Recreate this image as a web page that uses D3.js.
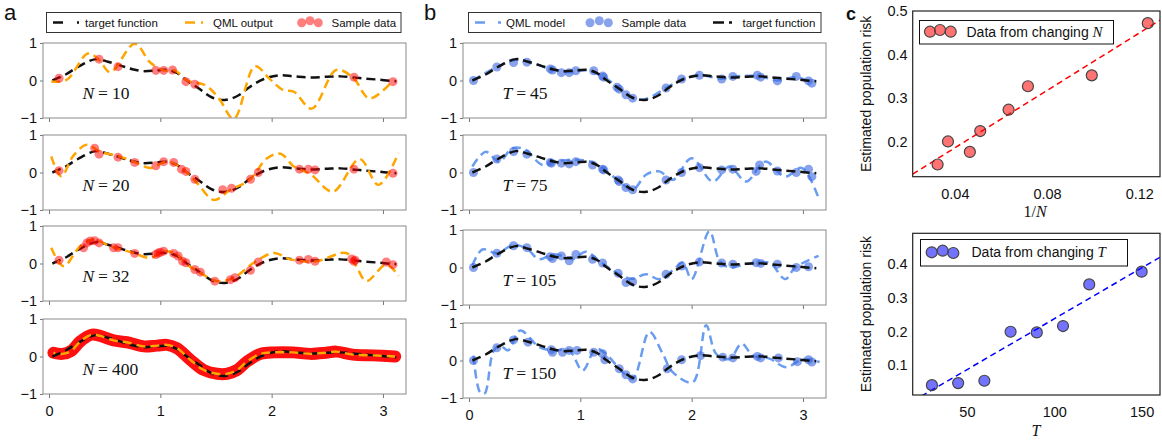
<!DOCTYPE html>
<html>
<head>
<meta charset="utf-8">
<script src="https://cdn.jsdelivr.net/npm/d3@7/dist/d3.min.js"></script>
<style>
  body { margin: 0; background: #fff; }
  text { font-family: "Liberation Sans", Arial, sans-serif; fill: #111; }
  .math { font-family: "Liberation Serif", "DejaVu Serif", serif; }
</style>
</head>
<body>
<svg id="chart" width="1162" height="440"></svg>
<script>
// ---- data ----
const xTicks = [0, 1, 2, 3];
const yTicks = [-1, 0, 1];

// target function (black dashed)
const targetX = [0.03, 0.15, 0.26, 0.42, 0.53, 0.65, 0.75, 0.85, 0.97, 1.07, 1.15, 1.23, 1.35, 1.47, 1.58, 1.70, 1.80, 1.93, 2.07, 2.20, 2.35, 2.50, 2.62, 2.77, 2.93, 3.12];
const targetY = [0.0, 0.16, 0.36, 0.57, 0.50, 0.39, 0.30, 0.25, 0.27, 0.28, 0.20, 0.02, -0.22, -0.46, -0.52, -0.40, -0.18, 0.04, 0.14, 0.11, 0.08, 0.10, 0.11, 0.07, 0.03, -0.02];

// panel a: samples and QML output
const sN10X = [0.09, 0.45, 0.62, 0.96, 1.03, 1.11, 1.23, 1.31, 2.74, 3.09];
const sN10Y = [0.06, 0.57, 0.37, 0.27, 0.27, 0.28, -0.03, -0.10, 0.09, -0.03];
const qN10X = [0.02, 0.16, 0.35, 0.45, 0.55, 0.77, 0.91, 1.03, 1.13, 1.24, 1.40, 1.52, 1.66, 1.85, 1.98, 2.10, 2.20, 2.36, 2.58, 2.73, 2.88, 3.09];
const qN10Y = [-0.03, 0.02, 0.72, 0.55, 0.22, 0.98, 0.48, 0.27, 0.27, 0.0, -0.12, -0.45, -1.02, 0.38, 0.05, -0.25, -0.3, -0.75, 0.28, 0.08, -0.48, 0.0];

const sN20X = [0.09, 0.41, 0.45, 0.62, 0.77, 0.96, 1.03, 1.12, 1.19, 1.23, 1.31, 1.56, 1.64, 1.81, 1.88, 2.25, 2.33, 2.39, 2.74, 3.09];
const sN20Y = [0.05, 0.65, 0.49, 0.41, 0.27, 0.18, 0.29, 0.27, 0.09, 0.03, -0.18, -0.46, -0.42, -0.18, 0.0, 0.09, 0.09, 0.07, 0.09, -0.02];
const qN20X = [0.02, 0.11, 0.22, 0.34, 0.46, 0.62, 0.76, 0.91, 1.06, 1.19, 1.33, 1.48, 1.63, 1.80, 1.96, 2.08, 2.20, 2.35, 2.55, 2.79, 2.96, 3.14];
const qN20Y = [0.43, -0.1, 0.45, 0.74, 0.55, 0.44, 0.29, 0.12, 0.29, 0.12, -0.28, -0.73, -0.46, -0.2, 0.38, 0.5, 0.16, -0.05, -0.51, 0.36, -0.33, 0.52];

const sN32X = [0.09, 0.31, 0.34, 0.37, 0.41, 0.45, 0.58, 0.62, 0.77, 0.96, 0.98, 1.00, 1.03, 1.12, 1.16, 1.20, 1.23, 1.31, 1.36, 1.49, 1.63, 1.67, 1.81, 1.88, 2.25, 2.33, 2.39, 2.72, 2.74, 2.75, 3.03, 3.09];
const sN32Y = [0.09, 0.42, 0.55, 0.60, 0.61, 0.55, 0.42, 0.42, 0.27, 0.24, 0.28, 0.30, 0.33, 0.27, 0.20, 0.06, 0.02, -0.16, -0.23, -0.47, -0.43, -0.38, -0.18, 0.04, 0.09, 0.11, 0.06, 0.12, 0.06, 0.09, 0.04, -0.03];
const qN32X = [0.02, 0.13, 0.28, 0.40, 0.55, 0.76, 0.91, 1.03, 1.15, 1.24, 1.36, 1.51, 1.66, 1.84, 2.02, 2.17, 2.40, 2.67, 2.76, 2.85, 3.03, 3.14];
const qN32Y = [0.42, -0.07, 0.46, 0.64, 0.46, 0.28, 0.15, 0.33, 0.24, -0.03, -0.25, -0.47, -0.38, 0.02, 0.28, 0.11, 0.06, 0.28, -0.07, -0.47, -0.03, -0.33];

// N = 400: the dense samples form a band, QML output sits on it
const b400X = [0.04, 0.12, 0.20, 0.28, 0.38, 0.46, 0.58, 0.70, 0.85, 0.97, 1.06, 1.15, 1.27, 1.39, 1.51, 1.60, 1.69, 1.78, 1.90, 2.02, 2.19, 2.35, 2.49, 2.58, 2.73, 2.91, 3.11];
const b400Y = [0.10, 0.07, 0.15, 0.40, 0.58, 0.55, 0.43, 0.38, 0.27, 0.29, 0.31, 0.22, -0.09, -0.36, -0.46, -0.46, -0.36, -0.13, 0.07, 0.11, 0.11, 0.07, 0.10, 0.13, 0.05, 0.03, 0.00];

// panel b: samples and QML model
const sT45X = [0.04, 0.25, 0.40, 0.52, 0.73, 0.75, 0.83, 0.90, 0.96, 1.12, 1.20, 1.21, 1.33, 1.35, 1.41, 1.47, 1.77, 1.91, 2.07, 2.27, 2.37, 2.59, 2.62, 2.77, 2.94, 3.05, 3.08];
const sT45Y = [0.00, 0.36, 0.48, 0.49, 0.31, 0.28, 0.21, 0.21, 0.26, 0.26, 0.12, 0.09, -0.18, -0.23, -0.38, -0.47, -0.20, 0.04, 0.14, 0.04, 0.11, 0.14, 0.09, -0.01, 0.11, -0.01, -0.07];
const qT45X = [0.03, 0.25, 0.42, 0.55, 0.75, 0.90, 1.05, 1.20, 1.35, 1.47, 1.58, 1.77, 1.92, 2.07, 2.27, 2.37, 2.60, 2.77, 2.94, 3.08];
const qT45Y = [0.0, 0.36, 0.55, 0.48, 0.29, 0.22, 0.27, 0.11, -0.2, -0.46, -0.5, -0.2, 0.04, 0.14, 0.05, 0.1, 0.12, 0.0, 0.09, -0.06];

const sT75X = [0.04, 0.25, 0.40, 0.52, 0.73, 0.74, 0.83, 0.90, 0.96, 1.11, 1.20, 1.21, 1.34, 1.35, 1.41, 1.47, 1.77, 1.91, 2.07, 2.27, 2.37, 2.58, 2.61, 2.77, 2.94, 3.05, 3.08];
const sT75Y = [0.00, 0.36, 0.56, 0.49, 0.27, 0.25, 0.25, 0.23, 0.29, 0.20, 0.09, 0.07, -0.20, -0.24, -0.40, -0.46, -0.20, 0.00, 0.13, 0.07, 0.09, 0.03, 0.20, 0.04, 0.00, 0.09, -0.11];
const qT75X = [0.03, 0.15, 0.27, 0.39, 0.50, 0.66, 0.78, 0.96, 1.11, 1.23, 1.35, 1.47, 1.59, 1.71, 1.83, 2.00, 2.19, 2.34, 2.49, 2.66, 2.84, 2.99, 3.14];
const qT75Y = [0.16, 0.55, 0.29, 0.65, 0.62, 0.20, 0.29, 0.34, 0.27, 0.05, -0.24, -0.46, -0.06, 0.03, -0.20, 0.38, -0.24, 0.16, -0.24, 0.29, -0.11, 0.12, -0.68];

const sT105X = [0.04, 0.25, 0.40, 0.52, 0.73, 0.75, 0.83, 0.90, 0.96, 1.11, 1.20, 1.34, 1.41, 1.47, 1.77, 1.91, 2.07, 2.27, 2.37, 2.58, 2.62, 2.77, 2.94, 3.05];
const sT105Y = [0.00, 0.38, 0.58, 0.53, 0.29, 0.24, 0.31, 0.18, 0.35, 0.22, 0.12, -0.15, -0.40, -0.38, -0.18, 0.04, 0.15, 0.12, 0.09, 0.13, 0.11, 0.09, 0.00, 0.02];
const qT105X = [0.03, 0.12, 0.25, 0.40, 0.52, 0.63, 0.75, 0.85, 0.93, 1.05, 1.18, 1.35, 1.47, 1.59, 1.71, 1.84, 1.92, 2.00, 2.16, 2.25, 2.34, 2.50, 2.70, 2.84, 2.93, 3.14];
const qT105Y = [0.05, 0.48, 0.38, 0.60, 0.50, 0.22, 0.35, 0.30, 0.22, 0.42, 0.15, -0.18, -0.30, -0.18, -0.31, -0.05, 0.13, -0.31, 0.97, 0.18, 0.0, 0.10, 0.12, -0.31, 0.0, 0.31];

const sT150X = [0.04, 0.25, 0.40, 0.53, 0.74, 0.75, 0.84, 0.90, 0.97, 1.12, 1.20, 1.22, 1.35, 1.41, 1.47, 1.78, 1.91, 2.08, 2.28, 2.37, 2.59, 2.62, 2.78, 2.95, 3.05, 3.08];
const sT150Y = [0.00, 0.34, 0.55, 0.49, 0.29, 0.22, 0.22, 0.27, 0.27, 0.22, 0.18, 0.02, -0.22, -0.38, -0.49, -0.22, 0.02, 0.13, 0.09, 0.07, 0.11, 0.07, 0.07, -0.03, 0.02, -0.04];
const qT150X = [0.04, 0.10, 0.14, 0.22, 0.28, 0.35, 0.46, 0.63, 0.75, 0.90, 1.02, 1.14, 1.24, 1.35, 1.47, 1.62, 1.74, 1.83, 2.01, 2.13, 2.22, 2.34, 2.45, 2.55, 2.70, 2.85, 3.00, 3.15];
const qT150Y = [0.13, -0.85, -0.88, 0.25, 0.40, 0.27, 0.80, 0.36, 0.27, 0.27, -0.27, 0.31, 0.15, -0.22, -0.49, 0.76, 0.18, -0.31, -0.58, 0.94, 0.18, 0.04, 0.45, 0.13, 0.05, -0.18, 0.04, -0.04];

// panel c
const invN = [0.0325, 0.0370, 0.0465, 0.0510, 0.0633, 0.0717, 0.0994, 0.1237];
const riskN = [0.147, 0.200, 0.176, 0.224, 0.273, 0.327, 0.352, 0.472];
const fitNX = [0.0217, 0.129];
const fitNY = [0.125, 0.479];
const Tvals = [30, 45, 60, 75, 90, 105, 120, 150];
const riskT = [0.040, 0.046, 0.053, 0.199, 0.197, 0.216, 0.340, 0.378];
const fitTX = [19, 160.5];
const fitTY = [-0.008, 0.421];
const cTopYTicks = [0.2, 0.3, 0.4, 0.5];
const cTopXTicks = [0.04, 0.08, 0.12];
const cBotYTicks = [0.1, 0.2, 0.3, 0.4];
const cBotXTicks = [50, 100, 150];

// ---- drawing ----
const svg = d3.select('#chart');
const H = 75;
let clipCount = 0;

function styleAxis(a, size) {
  a.attr('font-family', null).attr('font-size', null);
  a.select('.domain').remove();
  a.selectAll('.tick line').attr('stroke', '#777');
  a.selectAll('.tick text').attr('fill', '#111').style('font-size', size + 'px');
}

function subplot(x, top, showX) {
  const y = d3.scaleLinear().domain([-1, 1]).range([top + H, top]);
  const [x0, x1] = x.range();
  const id = 'clip' + clipCount++;
  svg.append('clipPath').attr('id', id).append('rect')
     .attr('x', x0).attr('y', top).attr('width', x1 - x0).attr('height', H);
  const xa = svg.append('g').attr('transform', `translate(0,${top + H})`)
     .call(d3.axisBottom(x).tickValues(xTicks).tickSize(4).tickPadding(8)
       .tickFormat(showX ? d3.format('d') : ''));
  const ya = svg.append('g').attr('transform', `translate(${x0},0)`)
     .call(d3.axisLeft(y).tickValues(yTicks).tickSize(3).tickPadding(3).tickFormat(d3.format('d')));
  styleAxis(xa, 14.5);
  styleAxis(ya, 14.5);
  const plot = svg.append('g').attr('clip-path', `url(#${id})`);
  svg.append('rect').attr('x', x0).attr('y', top).attr('width', x1 - x0).attr('height', H)
     .attr('fill', 'none').attr('stroke', '#8a8a8a').attr('stroke-width', 1);
  return { y, plot };
}

function curve(x, y, xs, ys) {
  return d3.line().curve(d3.curveCatmullRom.alpha(0.5))
    .x(i => x(xs[i])).y(i => y(ys[i]))(d3.range(xs.length));
}

function dashed(g, d, color, w, dash, offset) {
  g.append('path').attr('d', d).attr('fill', 'none').attr('stroke', color)
   .attr('stroke-width', w).attr('stroke-dasharray', dash).attr('stroke-dashoffset', offset || 0);
}

function dots(g, x, y, xs, ys, color, op) {
  g.selectAll(null).data(d3.range(xs.length)).enter().append('circle')
   .attr('cx', i => x(xs[i])).attr('cy', i => y(ys[i])).attr('r', 4.5)
   .attr('fill', color).attr('fill-opacity', op);
}

function mathLabel(x, y, sym, val) {
  const t = svg.append('text').attr('class', 'math').attr('x', x).attr('y', y).style('font-size', '17.5px');
  t.append('tspan').style('font-style', 'italic').text(sym);
  t.append('tspan').attr('dx', 4).text('=');
  t.append('tspan').attr('dx', 4).text(val);
}

// panel a
const xA = d3.scaleLinear().domain([-0.054, 3.207]).range([43, 406]);
const topsA = [43, 135, 226, 319];
const setsA = [
  { n: '10', sx: sN10X, sy: sN10Y, qx: qN10X, qy: qN10Y },
  { n: '20', sx: sN20X, sy: sN20Y, qx: qN20X, qy: qN20Y },
  { n: '32', sx: sN32X, sy: sN32Y, qx: qN32X, qy: qN32Y },
  { n: '400', qx: b400X, qy: b400Y }
];
setsA.forEach((s, k) => {
  const { y, plot } = subplot(xA, topsA[k], k === 3);
  if (!s.sx) {
    plot.append('path').attr('d', curve(xA, y, b400X, b400Y)).attr('fill', 'none')
      .attr('stroke', '#ff1010').attr('stroke-width', 12).attr('stroke-linecap', 'round')
      .attr('stroke-linejoin', 'round');
  }
  dashed(plot, curve(xA, y, targetX, targetY), '#111', 2.5, '9,5');
  dashed(plot, curve(xA, y, s.qx, s.qy), 'orange', 2.5, '9,5', s.sx ? 0 : 7);
  if (s.sx) dots(plot, xA, y, s.sx, s.sy, 'red', 0.5);
  mathLabel(xA(0.3), y(-0.5), 'N', s.n);
});

// panel b
const xB = d3.scaleLinear().domain([-0.054, 3.207]).range([463, 826]);
const topsB = [43, 135, 230, 323];
const setsB = [
  { n: '45', sx: sT45X, sy: sT45Y, qx: qT45X, qy: qT45Y },
  { n: '75', sx: sT75X, sy: sT75Y, qx: qT75X, qy: qT75Y },
  { n: '105', sx: sT105X, sy: sT105Y, qx: qT105X, qy: qT105Y },
  { n: '150', sx: sT150X, sy: sT150Y, qx: qT150X, qy: qT150Y }
];
setsB.forEach((s, k) => {
  const { y, plot } = subplot(xB, topsB[k], k === 3);
  dashed(plot, curve(xB, y, s.qx, s.qy), '#6a9cf0', 2.5, '9,5');
  dots(plot, xB, y, s.sx, s.sy, '#3f6ae0', 0.62);
  dashed(plot, curve(xB, y, targetX, targetY), '#111', 2.5, '9,5');
  mathLabel(xB(0.3), y(-0.5), 'T', s.n);
});

// legends a & b
function legendBox(x, y, w, h, stroke) {
  svg.append('rect').attr('x', x).attr('y', y).attr('width', w).attr('height', h)
     .attr('fill', '#fff').attr('stroke', stroke).attr('stroke-width', 1);
}
function legLine(x0, x1, yy, color, dash) {
  svg.append('line').attr('x1', x0).attr('x2', x1).attr('y1', yy).attr('y2', yy)
     .attr('stroke', color).attr('stroke-width', 2.5).attr('stroke-dasharray', dash);
}
function legDots(xs, ys, fill, op, r, stroke) {
  xs.forEach((xx, i) => {
    const c = svg.append('circle').attr('cx', xx).attr('cy', ys[i]).attr('r', r)
      .attr('fill', fill).attr('fill-opacity', op);
    if (stroke) c.attr('stroke', stroke).attr('stroke-width', 1.2);
  });
}
function legText(x, y, s, size) {
  return svg.append('text').attr('x', x).attr('y', y).style('font-size', size + 'px').text(s);
}

legendBox(46.5, 12.5, 354.5, 20, '#333');
legLine(53, 79, 22.5, '#111', '10,14');
legText(85, 26.5, 'target function', 11.5);
legLine(185, 203, 22.5, 'orange', '10,6');
legText(213, 26.5, 'QML output', 11.5);
legDots([301.7, 310, 318.3], [22.7, 20.7, 22.7], 'red', 0.5, 4.5);
legText(331.5, 26.5, 'Sample data', 11.5);

legendBox(468.5, 12.5, 352.5, 20, '#333');
legLine(475, 501, 22.5, '#6a9cf0', '10,13');
legText(506, 26.5, 'QML model', 11.5);
legDots([590, 599.3, 608.3], [22.7, 20.7, 22.7], '#3f6ae0', 0.62, 4.5);
legText(621.5, 26.5, 'Sample data', 11.5);
legLine(713, 732, 22.5, '#111', '11,5');
legText(742.5, 26.5, 'target function', 11.5);

// panel c
function scatterPanel(o) {
  const x = d3.scaleLinear().domain(o.xd).range([912.7, 1160]);
  const y = d3.scaleLinear().domain(o.yd).range(o.yr);
  const id = 'clip' + clipCount++;
  svg.append('clipPath').attr('id', id).append('rect')
     .attr('x', 912.7).attr('y', o.yr[1]).attr('width', 1160 - 912.7).attr('height', o.yr[0] - o.yr[1]);
  const xa = svg.append('g').attr('transform', `translate(0,${o.yr[0]})`)
     .call(d3.axisBottom(x).tickValues(o.xt).tickSize(0).tickPadding(12).tickFormat(o.xf));
  const ya = svg.append('g').attr('transform', 'translate(912.7,0)')
     .call(d3.axisLeft(y).tickValues(o.yt).tickSize(0).tickPadding(5).tickFormat(d3.format('.1f')));
  styleAxis(xa, 14.5);
  styleAxis(ya, 14.5);
  const g = svg.append('g').attr('clip-path', `url(#${id})`);
  g.append('path').attr('d', d3.line().x(i => x(o.fx[i])).y(i => y(o.fy[i]))(d3.range(o.fx.length)))
   .attr('fill', 'none').attr('stroke', o.line).attr('stroke-width', 1.5).attr('stroke-dasharray', '6,4');
  g.selectAll(null).data(d3.range(o.px.length)).enter().append('circle')
   .attr('cx', i => x(o.px[i])).attr('cy', i => y(o.py[i])).attr('r', 5.5)
   .attr('fill', o.fill).attr('fill-opacity', 0.55).attr('stroke', '#444').attr('stroke-width', 1.2);
  svg.append('rect').attr('x', 912.7).attr('y', o.yr[1]).attr('width', 1160 - 912.7)
     .attr('height', o.yr[0] - o.yr[1]).attr('fill', 'none').attr('stroke', '#222').attr('stroke-width', 1.2);
  const cy = (o.yr[0] + o.yr[1]) / 2;
  svg.append('text').attr('transform', `translate(871,${cy}) rotate(-90)`).attr('text-anchor', 'middle')
     .style('font-size', '14px').text('Estimated population risk');
}

scatterPanel({ xd: [0.0217, 0.129], yd: [0.119, 0.5], yr: [176.7, 11], xt: cTopXTicks, yt: cTopYTicks,
  xf: d3.format('.2f'), fx: fitNX, fy: fitNY, px: invN, py: riskN, fill: 'red', line: 'red' });
scatterPanel({ xd: [19, 160.5], yd: [0.0106, 0.4923], yr: [395, 233.3], xt: cBotXTicks, yt: cBotYTicks,
  xf: d3.format('d'), fx: fitTX, fy: fitTY, px: Tvals, py: riskT, fill: 'blue', line: 'blue' });

// x labels panel c
const lx = svg.append('text').attr('class', 'math').attr('x', 1035).attr('y', 217).attr('text-anchor', 'middle').style('font-size', '16px');
lx.append('tspan').text('1/');
lx.append('tspan').style('font-style', 'italic').text('N');
svg.append('text').attr('class', 'math').attr('x', 1036).attr('y', 436).attr('text-anchor', 'middle')
   .style('font-size', '16px').style('font-style', 'italic').text('T');

// legends panel c
legendBox(919.5, 20.5, 194, 23.5, '#111');
legDots([930, 940, 950.7], [31.7, 30, 31.7], 'red', 0.55, 5.5, '#444');
const t1 = legText(966.5, 36.5, 'Data from changing ', 14);
t1.append('tspan').attr('class', 'math').style('font-style', 'italic').style('font-size', '15px').text('N');

legendBox(920.5, 239.5, 207, 26.5, '#111');
legDots([931.7, 942.7, 953.3], [252.3, 250.7, 253], 'blue', 0.55, 5.5, '#444');
const t2 = legText(971.5, 256.5, 'Data from changing ', 14);
t2.append('tspan').attr('class', 'math').style('font-style', 'italic').style('font-size', '15px').text('T');

// panel letters
svg.append('text').attr('x', 4).attr('y', 20).style('font-size', '22px').text('a');
svg.append('text').attr('x', 424).attr('y', 20).style('font-size', '22px').text('b');
svg.append('text').attr('x', 846).attr('y', 20).style('font-size', '18px').style('font-weight', 'bold').text('c');
</script>
</body>
</html>
